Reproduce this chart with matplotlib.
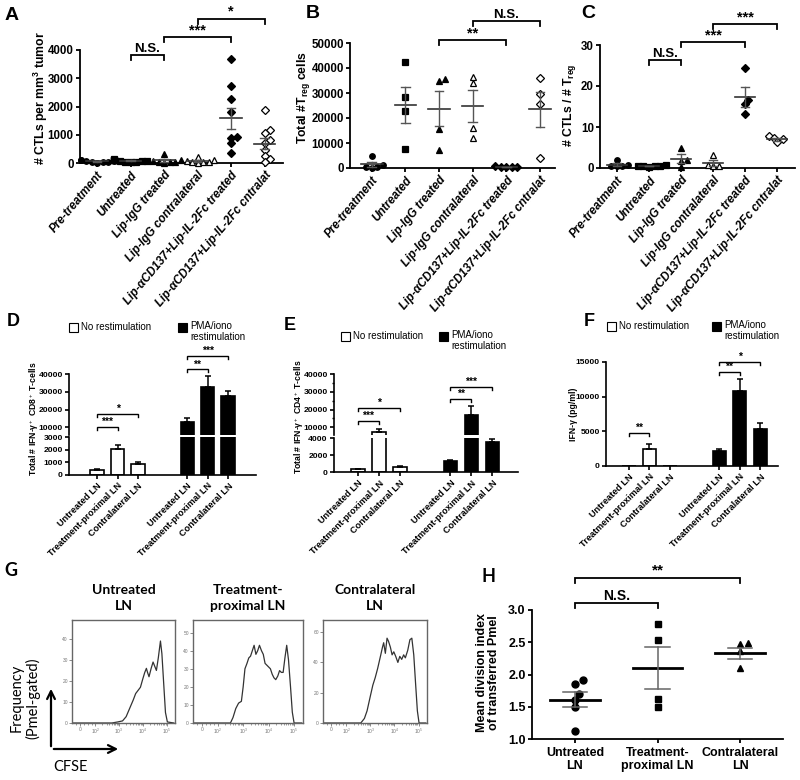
import numpy as np
import matplotlib
matplotlib.use('Agg')
import matplotlib.pyplot as plt
from matplotlib.patches import Rectangle, FancyArrowPatch

plt.rcParams['font.family'] = ['Liberation Sans', 'DejaVu Sans']
plt.rcParams['mathtext.fontset'] = 'custom'
plt.rcParams['mathtext.rm'] = 'Liberation Sans'
plt.rcParams['mathtext.it'] = 'Liberation Sans:italic'
plt.rcParams['mathtext.bf'] = 'Liberation Sans:bold'

#==== data: row 1 (dot plots, mean +/- SEM) ====
top_groups = ['Pre-treatment', 'Untreated', 'Lip-IgG treated', 'Lip-IgG contralateral',
              'Lip-αCD137+Lip-IL-2Fc treated', 'Lip-αCD137+Lip-IL-2Fc cntralat']
a_points = [[15, 30, 45, 60, 75, 90, 110, 40],
            [20, 45, 70, 95, 120, 150, 35, 60, 85, 110],
            [330, 90, 60, 40, 25, 15, 50],
            [200, 90, 60, 40, 25, 15, 50],
            [3690, 2730, 2260, 1810, 910, 870, 700, 340],
            [1880, 1180, 1050, 820, 700, 450, 260, 150, 50]]
a_mean = [55, 75, 90, 70, 1580, 680]
a_sem = [12, 15, 40, 25, 370, 200]

b_points = [[5000, 1200, 600, 300, 150],
            [42600, 28400, 22800, 7600],
            [35000, 35700, 15500, 7400],
            [36600, 34200, 16200, 11900],
            [700, 500, 400, 600, 300],
            [36000, 29600, 25600, 4000]]
b_mean = [1500, 25400, 23700, 24800, 500, 23600]
b_sem = [900, 7200, 7000, 6300, 80, 7000]

c_points = [[1.9, 0.8, 0.5, 0.4, 0.6],
            [0.7, 0.5, 0.4, 0.6, 0.3, 0.5],
            [4.9, 1.9, 1.7, 0.2],
            [3.1, 0.7, 0.6, 0.5],
            [24.5, 16.6, 15.6, 13.2],
            [7.7, 7.2, 7.0, 6.3]]
c_mean = [0.8, 0.5, 2.2, 1.2, 17.4, 7.0]
c_sem = [0.3, 0.08, 1.1, 0.7, 2.4, 0.3]

a_sig = [(1, 2, 3830, 'N.S.'), (2, 4, 4460, '***'), (3, 5, 5100, '*')]
b_sig = [(2, 4, 51200, '**'), (3, 5, 58800, 'N.S.')]
c_sig = [(1, 2, 26.3, 'N.S.'), (2, 4, 30.7, '***'), (3, 5, 35.1, '***')]

#==== data: row 2 (bars, mean + SEM) ====
ln_groups = ['Untreated LN', 'Treatment-proximal LN', 'Contralateral LN'] * 2
d_vals = [400, 2050, 850, 13200, 32600, 27900]
d_errs = [50, 330, 150, 1900, 6400, 2800]
e_vals = [350, 7500, 650, 1350, 17000, 3600]
e_errs = [40, 1500, 100, 150, 5000, 350]
f_vals = [0, 2450, 0, 2100, 10800, 5400]
f_errs = [0, 680, 0, 380, 1750, 770]
d_sig = [(0, 1, 10000, '***'), (0, 2, 17500, '*'), (3, 4, 42800, '**'), (3, 5, 50500, '***')]
e_sig = [(0, 1, 13600, '***'), (0, 2, 20800, '*'), (3, 4, 25900, '**'), (3, 5, 33000, '***')]
f_sig = [(0, 1, 4770, '**'), (3, 4, 13600, '**'), (3, 5, 15000, '*')]

#==== data: G histograms (x in decades of CFSE) ====
g_titles = ['Untreated\nLN', 'Treatment-\nproximal LN', 'Contralateral\nLN']
g1_x = [1.05, 2.7, 2.95, 3.15, 3.3, 3.45, 3.6, 3.7, 3.8, 3.9, 4.0, 4.08, 4.15, 4.2, 4.26,
        4.35, 4.43, 4.5, 4.57, 4.65, 4.74, 4.8, 4.88, 4.95, 5.03, 5.3]
g1_y = [0, 0, 0.5, 1, 3, 7, 11, 14, 15.5, 17, 21, 24, 26, 24, 22, 26, 29, 27, 25, 31, 39,
        33, 18, 5, 0.5, 0]
g2_x = [1.05, 2.5, 2.6, 2.71, 2.82, 2.93, 3.0, 3.07, 3.15, 3.22, 3.29, 3.36, 3.43, 3.5,
        3.57, 3.64, 3.72, 3.79, 3.86, 3.93, 4.0, 4.07, 4.14, 4.21, 4.28, 4.36, 4.43, 4.5,
        4.57, 4.64, 4.71, 4.78, 4.86, 4.93, 5.0, 5.3]
g2_y = [0, 0, 3, 8, 11, 12, 20, 30, 33, 36, 37, 40, 43, 38, 40, 43, 40, 38, 33, 32, 31, 30,
        27, 25, 24, 26, 29, 28, 28, 36, 43, 35, 20, 6, 0, 0]
g3_x = [1.05, 2.6, 2.75, 2.86, 3.0, 3.1, 3.2, 3.3, 3.43, 3.5, 3.55, 3.62, 3.69, 3.75, 3.83,
        3.9, 3.97, 4.05, 4.14, 4.22, 4.3, 4.38, 4.45, 4.55, 4.64, 4.72, 4.8, 4.88, 4.95,
        5.02, 5.3]
g3_y = [0, 0, 3, 8, 18, 25, 30, 36, 45, 50, 53, 46, 56, 54, 50, 45, 47, 44, 40, 44, 42, 45,
        43, 48, 55, 56, 45, 25, 8, 0, 0]
g_ticklabels = ['0', '$10^2$', '$10^3$', '$10^4$', '$10^5$']

#==== data: H ====
h_groups = ['Untreated\nLN', 'Treatment-\nproximal LN', 'Contralateral\nLN']
h_points = [[1.92, 1.85, 1.69, 1.60, 1.49, 1.13],
            [2.78, 2.53, 1.62, 1.49],
            [2.49, 2.48, 2.36, 2.10]]
h_mean = [1.61, 2.10, 2.33]
h_sem = [0.12, 0.32, 0.085]
h_sig = [(0, 1, 3.11, 'N.S.'), (0, 2, 3.5, '**')]

W, H = 800, 780
fig = plt.figure(figsize=(8, 7.8), dpi=100)
NARROW = ['Liberation Sans Narrow', 'Liberation Sans']


def px_rect(l, t, r, b):
    return [l / W, 1 - b / H, (r - l) / W, (b - t) / H]


def ftext(x, y, s, **kw):
    return fig.text(x / W, 1 - y / H, s, **kw)


def style(ax, lw=1.2):
    for s in ['top', 'right']:
        ax.spines[s].set_visible(False)
    for s in ['left', 'bottom']:
        ax.spines[s].set_linewidth(lw)
    ax.tick_params(width=lw, length=3, pad=1.5)


def bracket(ax, x1, x2, y, label, leg=4, fs=9, lw=1.1, gap=0.0):
    pos = ax.get_position()
    y0, y1 = ax.get_ylim()
    dy = leg / (pos.height * H) * (y1 - y0)
    ax.plot([x1, x1, x2, x2], [y - dy, y, y, y - dy], color='black', lw=lw,
            clip_on=False, solid_joinstyle='miter')
    ax.annotate(label, ((x1 + x2) / 2, y), xytext=(0, gap), textcoords='offset points',
                ha='center', va='bottom', fontsize=fs, fontweight='bold',
                annotation_clip=False)


def swarm(ax, vals, size_px):
    # simple beeswarm: horizontal offsets so markers do not pile up
    pos = ax.get_position()
    wpx, hpx = pos.width * W, pos.height * H
    x0, x1 = ax.get_xlim()
    y0, y1 = ax.get_ylim()
    ypx = (np.asarray(vals, float) - y0) / (y1 - y0) * hpx
    placed = []
    off = np.zeros(len(ypx))
    for k in np.argsort(ypx):
        for c in [0, 1, -1, 2, -2, 3, -3, 4, -4, 5, -5, 6, -6]:
            xo = c * size_px * 0.6
            if all((xo - px) ** 2 + (ypx[k] - py) ** 2 >= size_px ** 2 for px, py in placed):
                break
        placed.append((xo, ypx[k]))
        off[k] = xo
    return off / wpx * (x1 - x0)


def mean_sem(ax, x, m, s, mw, sw, mlw=1.2, slw=1.0, mcol='#333333', scol='#555555'):
    ax.plot([x - mw, x + mw], [m, m], color=mcol, lw=mlw, zorder=5, clip_on=False)
    ax.plot([x, x], [m - s, m + s], color=scol, lw=slw, zorder=5, clip_on=False)
    for yy in (m - s, m + s):
        ax.plot([x - sw, x + sw], [yy, yy], color=scol, lw=slw, zorder=5, clip_on=False)


#==== row 1 ====
top_markers = ['o', 's', '^', '^', 'D', 'D']
top_filled = [True, True, True, False, True, False]
top_ms = [4.0, 3.8, 4.4, 4.4, 3.6, 3.6]


def dot_panel(rect, xlim, ylim, yticks, pts, means, sems, sigs, ylabel, ylab_xy):
    ax = fig.add_axes(px_rect(*rect))
    style(ax, 1.3)
    ax.set_xlim(*xlim)
    ax.set_ylim(*ylim)
    ax.set_yticks(yticks)
    ax.set_xticks(range(len(top_groups)))
    ax.set_xticklabels(top_groups, rotation=50, ha='right', va='top', rotation_mode='anchor',
                       fontsize=8.4, fontweight='bold', style='italic')
    ax.tick_params(axis='y', labelsize=8.3)
    for t in ax.get_yticklabels():
        t.set_fontweight('bold')
    for i, vals in enumerate(pts):
        off = swarm(ax, vals, 4.6)
        ax.plot(i + off, vals, linestyle='none', marker=top_markers[i], ms=top_ms[i],
                mfc='black' if top_filled[i] else 'white', mec='black', mew=0.9,
                zorder=4, clip_on=False)
        mean_sem(ax, i, means[i], sems[i], 0.32, 0.13)
    for x1, x2, y, lab in sigs:
        bracket(ax, x1, x2, y, lab, leg=5, fs=9.5 if lab == 'N.S.' else 10.5, lw=1.3)
    ftext(ylab_xy[0], ylab_xy[1], ylabel, rotation=90, ha='center', va='center',
          fontsize=8.8, fontweight='bold')
    return ax


dot_panel((80, 50, 283, 163), (-0.51, 5.55), (0, 4000), [0, 1000, 2000, 3000, 4000],
          a_points, a_mean, a_sem, a_sig, r'# CTLs per mm$^\mathbf{3}$ tumor', (41, 98))
dot_panel((350, 43, 555, 168), (-0.65, 5.45), (0, 50000), range(0, 50001, 10000),
          b_points, b_mean, b_sem, b_sig, r'Total #T$_\mathbf{reg}$ cells', (304, 98))
dot_panel((600, 45, 795, 168), (-0.53, 5.56), (0, 30), [0, 10, 20, 30],
          c_points, c_mean, c_sem, c_sig, r'# CTLs / # T$_\mathbf{reg}$', (570, 105))

ftext(12, 15, 'A', fontsize=14, fontweight='bold', ha='center', va='center')
ftext(313, 14, 'B', fontsize=14, fontweight='bold', ha='center', va='center')
ftext(588, 14, 'C', fontsize=14, fontweight='bold', ha='center', va='center')

#==== row 2 ====
bar_x = np.array([0, 1, 2, 4.4, 5.4, 6.4])
bar_cols = ['white'] * 3 + ['black'] * 3


def draw_bars(ax, vals, errs):
    ax.bar(bar_x, vals, width=0.65, color=bar_cols, edgecolor='black', lw=1.2)
    errs = np.asarray(errs, float)
    m = errs > 0
    ax.errorbar(bar_x[m], np.asarray(vals)[m], yerr=[np.zeros(m.sum()), errs[m]], fmt='none',
                ecolor='black', elinewidth=1.1, capsize=2.5, capthick=1.1)


def bar_panel(low_rect, up_rect, xlim, low_ylim, low_ticks, up_ylim, up_ticks, vals, errs,
              sigs, ylabel, ylab_xy, up_minor=None):
    low = fig.add_axes(px_rect(*low_rect))
    style(low)
    draw_bars(low, vals, errs)
    low.set_xlim(*xlim)
    low.set_ylim(*low_ylim)
    low.set_yticks(low_ticks)
    low.set_xticks(bar_x)
    low.set_xticklabels(ln_groups, rotation=45, ha='right', va='top', rotation_mode='anchor',
                        fontsize=6.6, fontweight='bold')
    low.tick_params(axis='y', labelsize=6.1)
    for t in low.get_yticklabels():
        t.set_fontweight('bold')
    top = low
    if up_rect is not None:
        up = fig.add_axes(px_rect(*up_rect))
        style(up)
        up.spines['bottom'].set_visible(False)
        draw_bars(up, vals, errs)
        up.set_xlim(*xlim)
        up.set_ylim(*up_ylim)
        up.set_yticks(up_ticks)
        if up_minor is not None:
            up.set_yticks(up_minor, minor=True)
            up.tick_params(which='minor', length=1.8, width=1.0)
        up.set_xticks([])
        up.tick_params(axis='y', labelsize=6.1)
        for t in up.get_yticklabels():
            t.set_fontweight('bold')
        top = up
    for x1, x2, y, lab in sigs:
        bracket(top, bar_x[x1], bar_x[x2], y, lab, leg=3, fs=7.5, lw=1.0)
    ftext(ylab_xy[0], ylab_xy[1], ylabel, rotation=90, ha='center', va='center',
          fontsize=6.2, fontweight='bold')


bar_panel((69, 437.5, 256, 475), (69, 374.3, 256, 434.5), (-1.37, 7.76), (0, 3000),
          [0, 1000, 2000, 3000], (5900, 40000), [10000, 20000, 30000, 40000],
          d_vals, d_errs, d_sig, r'Total # IFN-γ$^+$ CD8$^+$ T-cells', (34, 419))
bar_panel((334, 438.3, 518, 472.3), (334, 374.3, 518, 435), (-1.14, 7.62), (0, 4000),
          [0, 2000, 4000], (5640, 40000), [10000, 20000, 30000, 40000],
          e_vals, e_errs, e_sig, r'Total # IFN-γ$^+$ CD4$^+$ T-cells', (299, 417),
          up_minor=[15000, 25000, 35000])
bar_panel((606, 362, 778, 466), None, (-1.12, 7.27), (0, 15000), [0, 5000, 10000, 15000],
          None, None, f_vals, f_errs, f_sig, 'IFN-γ (pg/ml)', (573, 414))


def legend(x_white, x_black, y, fs=7):
    for xx, col in ((x_white, 'white'), (x_black, 'black')):
        fig.add_artist(Rectangle((xx / W, 1 - (y + 4.5) / H), 9 / W, 9 / H,
                                 transform=fig.transFigure, facecolor=col,
                                 edgecolor='black', lw=0.8))
    ftext(x_white + 12, y, 'No restimulation', fontsize=fs, va='center', family=NARROW)
    ftext(x_black + 12, y - 6, 'PMA/iono\nrestimulation', fontsize=fs, va='top',
          family=NARROW, linespacing=1.15)


legend(69, 178, 327)
legend(341, 439, 336)
legend(607, 712, 326)
ftext(13, 322, 'D', fontsize=13, fontweight='bold', ha='center', va='center', family=NARROW)
ftext(290, 325, 'E', fontsize=13, fontweight='bold', ha='center', va='center', family=NARROW)
ftext(589, 322, 'F', fontsize=13, fontweight='bold', ha='center', va='center', family=NARROW)

#==== G ====
g_rects = [(72, 620, 175, 723), (193, 620, 303, 723), (323, 620, 427, 723)]
g_data = [(g1_x, g1_y, (0, 49), [0, 10, 20, 30, 40]),
          (g2_x, g2_y, (0, 57), [0, 10, 20, 30, 40, 50]),
          (g3_x, g3_y, (0, 68), [0, 20, 40, 60])]
g_minor = [np.log10(k) + d for d in range(2, 5) for k in range(2, 10)] + [1.2, 1.55, 1.7, 1.85]
for rect, (gx, gy, ylim, yt), title in zip(g_rects, g_data, g_titles):
    ax = fig.add_axes(px_rect(*rect))
    ax.plot(gx, gy, color='#333333', lw=0.9)
    ax.set_xlim(1.03, 5.35)
    ax.set_ylim(*ylim)
    for s in ax.spines.values():
        s.set_color('#666666')
        s.set_linewidth(1.0)
    ax.set_xticks([1.375, 2, 3, 4, 5])
    ax.set_xticklabels(g_ticklabels)
    ax.set_xticks(g_minor, minor=True)
    ax.set_yticks(yt)
    ax.tick_params(labelsize=3.5, colors='#777777', length=2, width=0.6, pad=1)
    ax.tick_params(which='minor', length=1.2, width=0.5, colors='#777777')
    cx = (rect[0] + rect[2]) / 2
    ftext(cx, 598, title, ha='center', va='center', fontsize=10, fontweight='bold',
          family='Lato', linespacing=1.3)

fig.add_artist(FancyArrowPatch((51 / W, 1 - 749 / H), (51 / W, 1 - 686 / H),
                               transform=fig.transFigure, arrowstyle='->',
                               mutation_scale=14, lw=1.6, color='black'))
fig.add_artist(FancyArrowPatch((51 / W, 1 - 749 / H), (121 / W, 1 - 749 / H),
                               transform=fig.transFigure, arrowstyle='->',
                               mutation_scale=14, lw=1.6, color='black'))
ftext(25, 698, 'Frequency\n(Pmel-gated)', rotation=90, ha='center', va='center',
      fontsize=10.5, family='Lato', linespacing=1.15)
ftext(70, 767, 'CFSE', ha='center', va='center', fontsize=10.5, family='Lato')
ftext(11, 570, 'G', fontsize=13, fontweight='bold', ha='center', va='center', family='Lato')

#==== H ====
h_markers = ['o', 's', '^']
ax = fig.add_axes(px_rect(532, 610, 783, 739))
style(ax, 1.3)
ax.set_xlim(-0.52, 2.52)
ax.set_ylim(1.0, 3.0)
ax.set_yticks([1.0, 1.5, 2.0, 2.5, 3.0])
ax.set_yticklabels(['%.1f' % v for v in [1.0, 1.5, 2.0, 2.5, 3.0]], fontsize=9,
                   fontweight='bold')
ax.set_xticks([0, 1, 2])
ax.set_xticklabels(h_groups, fontsize=9, fontweight='bold', linespacing=1.1)
ax.tick_params(axis='x', pad=3)
for i, vals in enumerate(h_points):
    off = swarm(ax, vals, 7.0)
    ax.plot(i + off, vals, linestyle='none', marker=h_markers[i], ms=5, mfc='black',
            mec='black', zorder=4)
    mean_sem(ax, i, h_mean[i], h_sem[i], 0.3, 0.15, mlw=2.0, slw=1.1, mcol='black',
             scol='#666666')
for x1, x2, y, lab in h_sig:
    bracket(ax, x1, x2, y, lab, leg=5, fs=10 if lab == 'N.S.' else 11, lw=1.3)
ftext(488, 673, 'Mean division index\nof transferred Pmel', rotation=90, ha='center',
      va='center', fontsize=9, fontweight='bold', linespacing=1.1)
ftext(489, 577, 'H', fontsize=13, fontweight='bold', ha='center', va='center', family='Lato')

fig.savefig('out.png', dpi=100)
